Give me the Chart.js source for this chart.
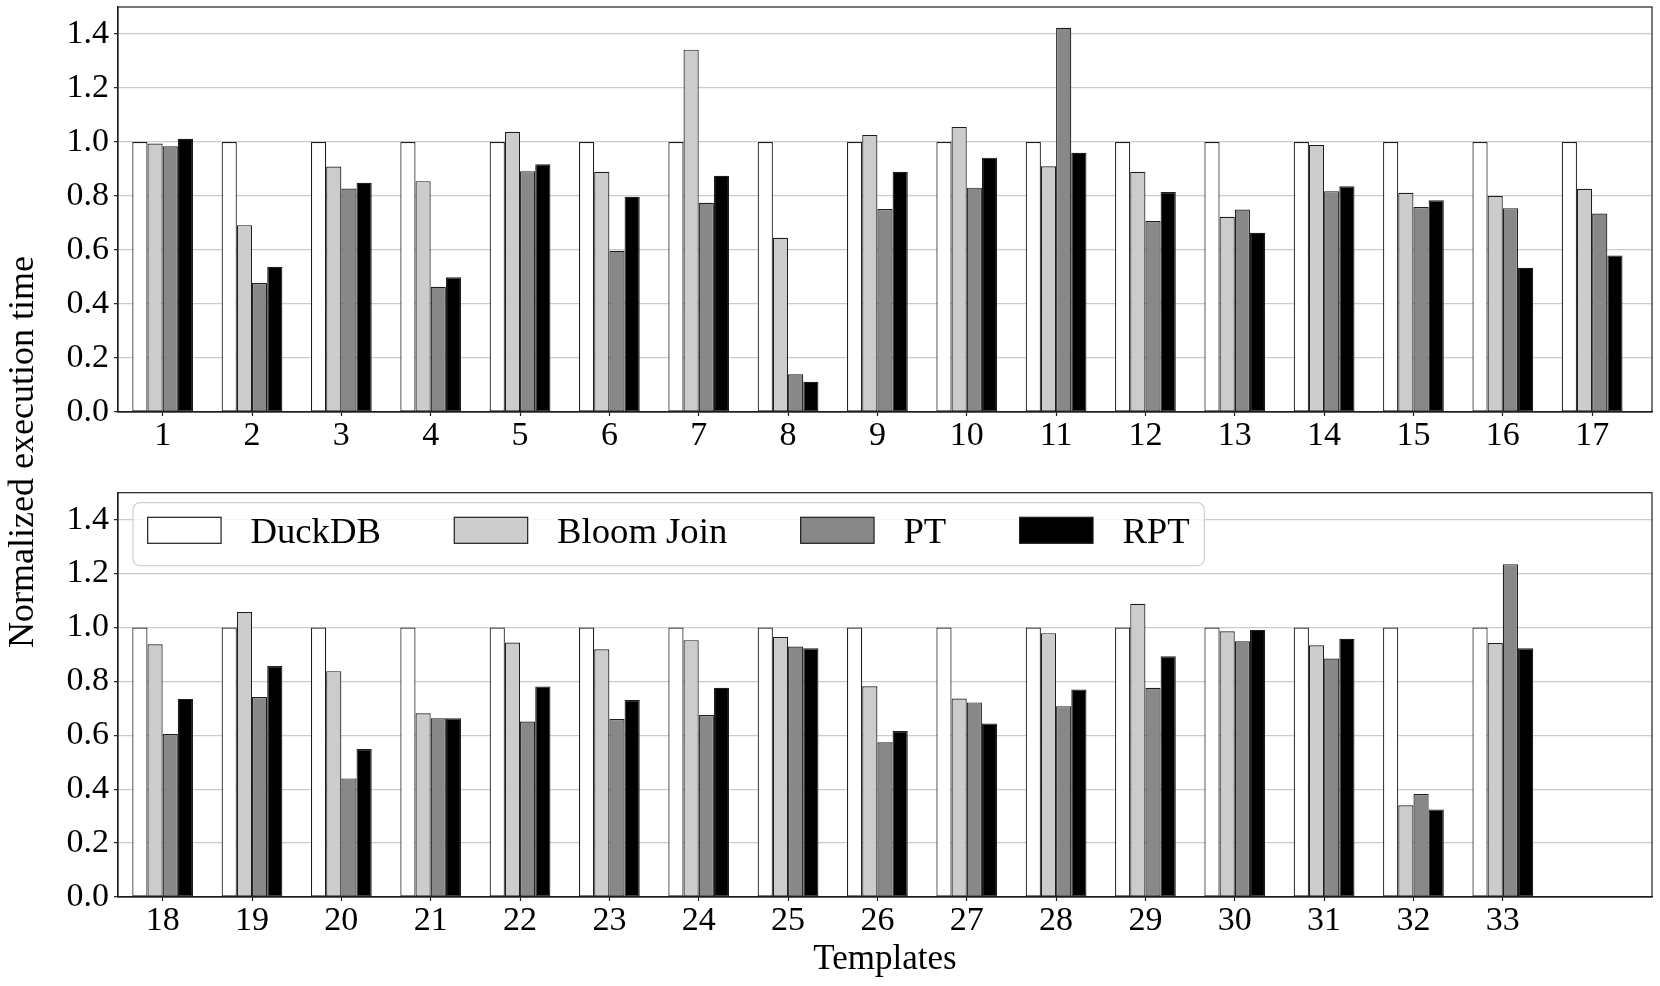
<!DOCTYPE html>
<html>
<head>
<meta charset="utf-8">
<title>Normalized execution time</title>
<script src="https://cdn.jsdelivr.net/npm/chart.js@4.4.1/dist/chart.umd.min.js"></script>
<style>
    html, body { margin: 0; padding: 0; background: #fff; overflow: hidden; }
    #quadro { position: relative; width: 1660px; height: 986px; }
    #quadro canvas { position: absolute; left: 0; top: 0; }
</style>
</head>
<body>
<div id="quadro">
    <canvas id="graficoTopo" width="1660" height="986"></canvas>
    <canvas id="graficoBaixo" width="1660" height="986"></canvas>
</div>
<script>
// =============================
// Dados
// =============================
const series = ["DuckDB", "Bloom Join", "PT", "RPT"];

const templatesTopo = ["1", "2", "3", "4", "5", "6", "7", "8", "9", "10", "11", "12", "13", "14", "15", "16", "17"];
const duckdbTopo = [1.0, 1.0, 1.0, 1.0, 1.0, 1.0, 1.0, 1.0, 1.0, 1.0, 1.0, 1.0, 1.0, 1.0, 1.0, 1.0, 1.0];
const bloomTopo  = [0.994, 0.692, 0.909, 0.855, 1.038, 0.890, 1.342, 0.645, 1.026, 1.056, 0.910, 0.890, 0.723, 0.989, 0.812, 0.800, 0.827];
const ptTopo     = [0.984, 0.478, 0.828, 0.464, 0.892, 0.597, 0.775, 0.140, 0.752, 0.831, 1.423, 0.707, 0.750, 0.818, 0.759, 0.755, 0.735];
const rptTopo    = [1.012, 0.538, 0.849, 0.499, 0.918, 0.797, 0.875, 0.112, 0.890, 0.942, 0.960, 0.815, 0.664, 0.836, 0.784, 0.534, 0.580];

const templatesBaixo = ["18", "19", "20", "21", "22", "23", "24", "25", "26", "27", "28", "29", "30", "31", "32", "33"];
const duckdbBaixo = [1.0, 1.0, 1.0, 1.0, 1.0, 1.0, 1.0, 1.0, 1.0, 1.0, 1.0, 1.0, 1.0, 1.0, 1.0, 1.0];
const bloomBaixo  = [0.938, 1.057, 0.838, 0.682, 0.944, 0.919, 0.953, 0.965, 0.782, 0.736, 0.979, 1.088, 0.986, 0.934, 0.340, 0.942];
const ptBaixo     = [0.605, 0.742, 0.440, 0.663, 0.651, 0.660, 0.675, 0.929, 0.574, 0.722, 0.708, 0.776, 0.949, 0.885, 0.382, 1.235];
const rptBaixo    = [0.735, 0.857, 0.549, 0.663, 0.781, 0.731, 0.776, 0.923, 0.616, 0.644, 0.770, 0.893, 0.991, 0.958, 0.325, 0.923];

const ticksY = [0.0, 0.2, 0.4, 0.6, 0.8, 1.0, 1.2, 1.4];

// estilo
const coresSeries = ["#ffffff", "#cccccc", "#888888", "#000000"];
const corBorda = "#1e1e1e";
const fonte = "'Liberation Serif', 'Times New Roman', Times, serif";
Chart.defaults.font.family = fonte;
Chart.defaults.color = "#000";


// =============================
// Montagem dos datasets
// =============================
function montarDatasets(valores) {
    return series.map((nome, k) => ({
        label: nome,
        data: valores[k].map((v, i) => ({ x: i, y: v })),
        backgroundColor: coresSeries[k],
        borderColor: corBorda,
        borderWidth: 1.2,
        borderSkipped: false,
        categoryPercentage: 0.68,
        barPercentage: 1.0
    }));
}

// moldura completa do painel (matplotlib desenha os 4 lados)
const pluginMoldura = {
    id: "moldura",
    afterDatasetsDraw(chart) {
        const { ctx, chartArea: a } = chart;
        ctx.save();
        ctx.strokeStyle = corBorda;
        ctx.lineWidth = 1.2;
        ctx.strokeRect(a.left, a.top, a.right - a.left, a.bottom - a.top);
        ctx.restore();
    }
};

// legenda dentro do painel de baixo + titulos dos eixos
const pluginLegenda = {
    id: "legendaInterna",
    afterDraw(chart) {
        const { ctx, chartArea: a } = chart;
        const em = 36.7;
        ctx.save();
        ctx.font = `${em}px ${fonte}`;

        const caixaX = a.left + 15;
        const caixaY = a.top + 10;
        let larg = 0.4 * em;
        series.forEach((nome, k) => {
            larg += 2 * em + 0.8 * em + ctx.measureText(nome).width;
            if (k < series.length - 1) larg += 2 * em;
        });
        larg += 0.4 * em;
        const alt = 63;
        const r = 7;

        ctx.beginPath();
        ctx.moveTo(caixaX + r, caixaY);
        ctx.lineTo(caixaX + larg - r, caixaY);
        ctx.arcTo(caixaX + larg, caixaY, caixaX + larg, caixaY + r, r);
        ctx.lineTo(caixaX + larg, caixaY + alt - r);
        ctx.arcTo(caixaX + larg, caixaY + alt, caixaX + larg - r, caixaY + alt, r);
        ctx.lineTo(caixaX + r, caixaY + alt);
        ctx.arcTo(caixaX, caixaY + alt, caixaX, caixaY + alt - r, r);
        ctx.lineTo(caixaX, caixaY + r);
        ctx.arcTo(caixaX, caixaY, caixaX + r, caixaY, r);
        ctx.closePath();
        ctx.fillStyle = "rgba(255,255,255,0.8)";
        ctx.fill();
        ctx.strokeStyle = "#d0d0d0";
        ctx.lineWidth = 1.2;
        ctx.stroke();

        let x = caixaX + 0.4 * em;
        const yPatch = caixaY + 14.6;
        series.forEach((nome, k) => {
            ctx.fillStyle = coresSeries[k];
            ctx.fillRect(x, yPatch, 2 * em, 26);
            ctx.strokeStyle = corBorda;
            ctx.lineWidth = 1.2;
            ctx.strokeRect(x, yPatch, 2 * em, 26);
            x += 2.8 * em;
            ctx.fillStyle = "#000";
            ctx.textAlign = "left";
            ctx.textBaseline = "alphabetic";
            ctx.fillText(nome, x, yPatch + 26);
            x += ctx.measureText(nome).width + 2 * em;
        });

        // titulo do eixo x
        ctx.font = `35px ${fonte}`;
        ctx.textAlign = "center";
        ctx.fillText("Templates", (a.left + a.right) / 2, 969);

        // titulo do eixo y (compartilhado pelos dois paineis)
        ctx.font = `36px ${fonte}`;
        ctx.translate(33, 452);
        ctx.rotate(-Math.PI / 2);
        ctx.fillText("Normalized execution time", 0, 0);
        ctx.restore();
    }
};


// =============================
// Opcoes de cada painel
// =============================
function opcoesPainel(rotulos, padTopo, padBaixo, alturaEixoX) {
    return {
        responsive: false,
        animation: false,
        devicePixelRatio: 1,
        layout: { padding: { top: padTopo, bottom: padBaixo, left: 0, right: 8 } },
        plugins: {
            legend: { display: false },
            tooltip: { enabled: false }
        },
        scales: {
            x: {
                type: "linear",
                offset: false,
                min: -0.5,
                max: 16.67,
                afterBuildTicks: eixo => {
                    eixo.ticks = rotulos.map((_, i) => ({ value: i }));
                },
                afterFit: eixo => {
                    eixo.height = alturaEixoX;
                    eixo.paddingLeft = 0;
                    eixo.paddingRight = 0;
                },
                ticks: {
                    autoSkip: false,
                    maxRotation: 0,
                    padding: 3,
                    color: "#000",
                    font: { family: fonte, size: 34, lineHeight: 1 },
                    callback: v => rotulos[v]
                },
                grid: {
                    display: true,
                    offset: false,
                    drawOnChartArea: false,
                    tickLength: 4,
                    tickColor: corBorda,
                    tickWidth: 1.2
                },
                border: { display: true, color: corBorda, width: 1.2 }
            },
            y: {
                min: 0,
                max: 1.5,
                afterBuildTicks: eixo => {
                    eixo.ticks = ticksY.map(v => ({ value: v }));
                },
                afterFit: eixo => {
                    eixo.width = 118;
                    eixo.paddingTop = 0;
                    eixo.paddingBottom = 0;
                },
                ticks: {
                    padding: 5,
                    color: "#000",
                    font: { family: fonte, size: 34, lineHeight: 1 },
                    callback: v => Number(v).toFixed(1)
                },
                grid: {
                    color: "#cccccc",
                    lineWidth: 1.3,
                    tickLength: 4,
                    tickColor: corBorda,
                    tickWidth: 1.2
                },
                border: { display: true, color: corBorda, width: 1.2 }
            }
        }
    };
}

let graficoTopo = new Chart(document.getElementById("graficoTopo").getContext("2d"), {
    type: "bar",
    data: { datasets: montarDatasets([duckdbTopo, bloomTopo, ptTopo, rptTopo]) },
    options: opcoesPainel(templatesTopo, 7, 531, 43),
    plugins: [pluginMoldura]
});

let graficoBaixo = new Chart(document.getElementById("graficoBaixo").getContext("2d"), {
    type: "bar",
    data: { datasets: montarDatasets([duckdbBaixo, bloomBaixo, ptBaixo, rptBaixo]) },
    options: opcoesPainel(templatesBaixo, 492.7, 0, 89),
    plugins: [pluginMoldura, pluginLegenda]
});
</script>
</body>
</html>
